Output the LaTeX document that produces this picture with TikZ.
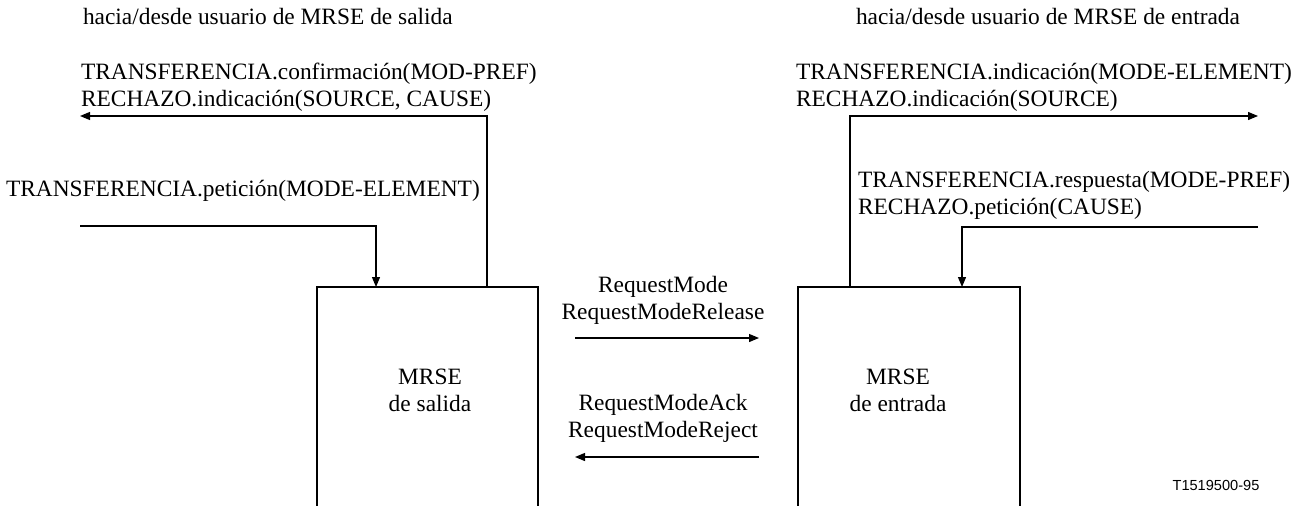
\documentclass[tikz,border=0pt]{standalone}
\usepackage{fontspec}
\setmainfont{Liberation Serif}
\newfontfamily\labsans{Liberation Sans}
\usetikzlibrary{arrows.meta}
\begin{document}
\begin{tikzpicture}[x=1pt,y=-1pt,
  every node/.style={inner sep=0pt,outer sep=0pt,font=\fontsize{23.4}{27}\selectfont},
  ln/.style={line width=1.2pt},
  arr/.style={ln,-{Triangle[length=10pt,width=8pt]}},
  lbl/.style={align=left,anchor=base west},
  ctr/.style={align=center}]
\useasboundingbox (0,0) rectangle (1307,506);
% boxes (open at bottom)
\coordinate (salTL) at (317,287);
\coordinate (salTR) at (538,287);
\coordinate (salBL) at (317,506);
\coordinate (salBR) at (538,506);
\coordinate (entTL) at (798,287);
\coordinate (entTR) at (1020,287);
\coordinate (entBL) at (798,506);
\coordinate (entBR) at (1020,506);
\draw[ln] (salBL) -- (salTL) -- (salTR) -- (salBR);
\draw[ln] (entBL) -- (entTL) -- (entTR) -- (entBR);
\node[ctr] (saltxt) at (430,390) {MRSE\\de salida};
\node[ctr] (enttxt) at (898,390) {MRSE\\de entrada};
% headers
\node[lbl] (hs) at (83,24) {hacia/desde usuario de MRSE de salida};
\node[lbl] (he) at (856,24) {hacia/desde usuario de MRSE de entrada};
% left user side (base = baseline of last line)
\node[lbl] (conf) at (81,106) {TRANSFERENCIA.confirmación(MOD-PREF)\\RECHAZO.indicación(SOURCE, CAUSE)};
\node[lbl] (pet) at (6,196) {TRANSFERENCIA.petición(MODE-ELEMENT)};
\coordinate (upL) at (487,287);
\coordinate (upLtop) at (487,116);
\coordinate (outL) at (80,116);
\draw[arr] (upL) -- (upLtop) -- (outL);
\coordinate (inL) at (80,226);
\coordinate (inLc) at (376,226);
\coordinate (inLb) at (376,287);
\draw[arr] (inL) -- (inLc) -- (inLb);
% right user side
\node[lbl] (ind) at (796,106) {TRANSFERENCIA.indicación(MODE-ELEMENT)\\RECHAZO.indicación(SOURCE)};
\node[lbl] (resp) at (858,214) {TRANSFERENCIA.respuesta(MODE-PREF)\\RECHAZO.petición(CAUSE)};
\coordinate (upR) at (850,287);
\coordinate (upRtop) at (850,116);
\coordinate (outR) at (1258,116);
\draw[arr] (upR) -- (upRtop) -- (outR);
\coordinate (inR) at (1258,227);
\coordinate (inRc) at (962,227);
\coordinate (inRb) at (962,287);
\draw[arr] (inR) -- (inRc) -- (inRb);
% peer messages
\node[ctr] (req) at (663,300) {RequestMode\\RequestModeRelease};
\coordinate (r1a) at (575,338);
\coordinate (r1b) at (759,338);
\draw[arr] (r1a) -- (r1b);
\node[ctr] (ack) at (663,418) {RequestModeAck\\RequestModeReject};
\coordinate (r2a) at (759,457);
\coordinate (r2b) at (575,457);
\draw[arr] (r2a) -- (r2b);
\node[font=\labsans\fontsize{14.6}{17}\selectfont] (tag) at (1216,485) {T1519500-95};
\end{tikzpicture}
\end{document}
